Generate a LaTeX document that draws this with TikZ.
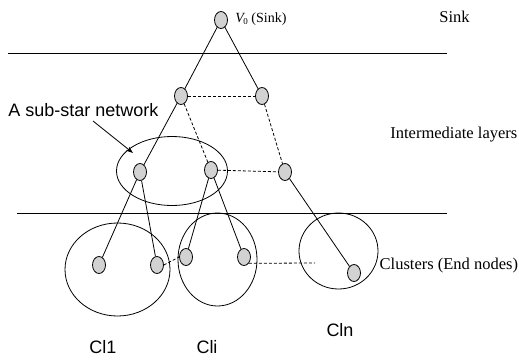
\documentclass[tikz,border=0pt]{standalone}
\usepackage{fontspec}
\setmainfont{Liberation Serif}
\newfontfamily\arialfont{Liberation Sans}
\usetikzlibrary{shapes.geometric,arrows.meta}
\begin{document}
\begin{tikzpicture}[x=1pt,y=-1pt,line width=0.8pt,
  vnode/.style={ellipse,draw,fill=gray!35,minimum width=13pt,minimum height=17pt,inner sep=0pt},
  grp/.style={ellipse,draw,inner sep=0pt},
  serlab/.style={font=\fontsize{16.5}{18}\selectfont,inner sep=0pt},
  sanslab/.style={font=\arialfont\fontsize{18}{20}\selectfont,inner sep=0pt},
  dlink/.style={draw,dashed,dash pattern=on 3pt off 2pt}]
\useasboundingbox (0,0) rectangle (519,359);
% layer lines
\coordinate (t1) at (8,53); \coordinate (t2) at (447,53);
\coordinate (b1) at (17,213); \coordinate (b2) at (447,213);
\draw (t1) -- (t2);
\draw (b1) -- (b2);
% groups
\node[grp,minimum width=111pt,minimum height=69pt] (sub) at (172,171) {};
\node[grp,minimum width=105pt,minimum height=93pt] (c1) at (117.5,269.5) {};
\node[grp,minimum width=79pt,minimum height=93pt] (ci) at (217.5,259.5) {};
\node[grp,minimum width=79pt,minimum height=76pt] (cn) at (338.5,251) {};
% nodes
\node[vnode] (v0) at (221,20) {};
\node[vnode] (a1) at (181,96) {};
\node[vnode] (b1n) at (262,96) {};
\node[vnode] (l2a) at (140,172) {};
\node[vnode] (l2b) at (211,170) {};
\node[vnode] (l2c) at (285,172) {};
\node[vnode] (e1) at (99,265) {};
\node[vnode] (e2) at (157,265) {};
\node[vnode] (e3) at (186,257) {};
\node[vnode] (e4) at (244,257) {};
\node[vnode] (e5) at (354,273) {};
% edges
\draw (v0) -- (a1);
\draw (v0) -- (b1n);
\draw[dlink] (a1) -- (b1n);
\draw (a1) -- (l2a);
\draw[dlink] (a1) -- (l2b);
\draw[dlink] (b1n) -- (l2c);
\draw[dlink] (l2b) -- (l2c);
\draw (l2a) -- (e1);
\draw (l2a) -- (e2);
\draw (l2b) -- (e3);
\draw (l2b) -- (e4);
\draw (l2c) -- (e5);
\draw[dlink] (e2.east) -- (e3.west);
\coordinate (dend) at (315,263);
\draw[dlink] (e4.south east) -- (dend);
% labels
\node[anchor=west,font=\fontsize{14}{16}\selectfont,inner sep=0pt] (v0lab) at (235,19) {{\itshape V}\kern-0.5pt\raisebox{-2.5pt}{\fontsize{9}{9}\selectfont 0} (Sink)};
\node[serlab,anchor=west] (sinklab) at (439,17) {Sink};
\node[serlab,anchor=west] (intlab) at (390,135) {Intermediate layers};
\node[serlab,anchor=east] (clulab) at (518.5,266) {Clusters (End nodes)};
\node[sanslab,anchor=west] (sublab) at (8,110) {A sub-star network};
\coordinate (arrs) at (93,121);
\coordinate (arre) at (133,153);
\draw[-{Stealth[length=7pt,width=5pt]}] (arrs) -- (arre);
\node[sanslab] (cl1) at (103,347) {Cl1};
\node[sanslab] (cli) at (207,347) {Cli};
\node[sanslab] (cln) at (340,330) {Cln};
\end{tikzpicture}
\end{document}
